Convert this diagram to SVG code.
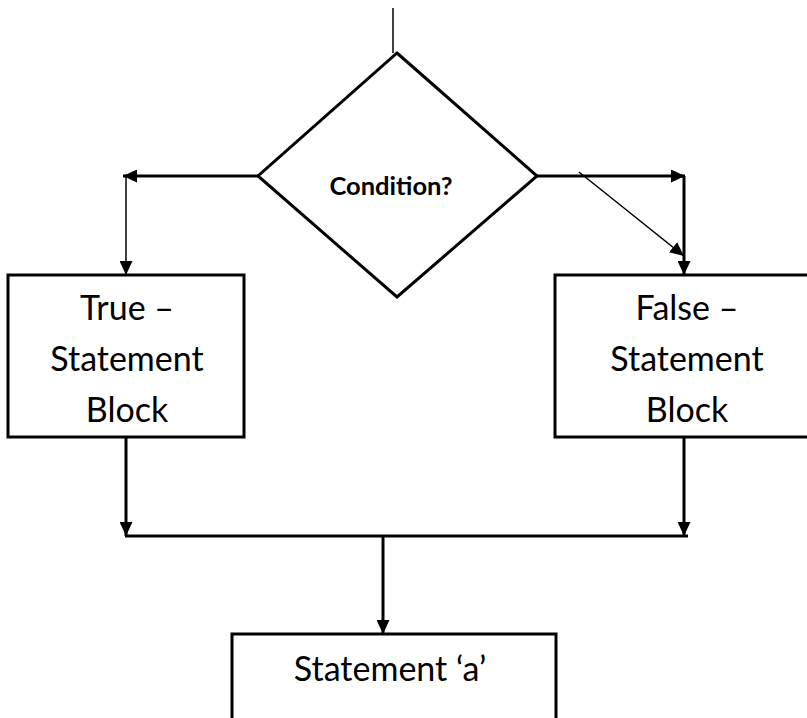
<svg xmlns="http://www.w3.org/2000/svg" width="807" height="718" viewBox="0 0 807 718">
  <style>
    .box { fill: #ffffff; stroke: #000000; stroke-width: 3; }
    .thick { fill: none; stroke: #000000; stroke-width: 3; }
    .thin { fill: none; stroke: #000000; stroke-width: 1.5; }
    .lbl { font-family: Lato, "Liberation Sans", sans-serif; font-size: 34px; fill: #000000; text-anchor: middle; }
    .cond { font-family: Lato, "Liberation Sans", sans-serif; font-size: 25.5px; font-weight: bold; fill: #000000; text-anchor: middle; }
  </style>
  <defs>
    <marker id="arr" viewBox="0 0 14 13" refX="14" refY="6.5" markerWidth="14" markerHeight="13" markerUnits="userSpaceOnUse" orient="auto">
      <path d="M0,0 L14,6.5 L0,13 z" fill="#000000"/>
    </marker>
  </defs>
  <rect width="807" height="718" fill="#ffffff"/>

  <g id="decision">
    <polygon class="box" points="397,53 537,176 397,297 258,176"/>
    <text class="cond" x="391" y="195">Condition?</text>
  </g>

  <g id="true-block">
    <rect class="box" x="8" y="275" width="236" height="162"/>
    <text class="lbl" x="127" y="320">True –</text>
    <text class="lbl" x="127" y="371">Statement</text>
    <text class="lbl" x="127" y="422">Block</text>
  </g>

  <g id="false-block">
    <rect class="box" x="555" y="275" width="265" height="162"/>
    <text class="lbl" x="687" y="320">False –</text>
    <text class="lbl" x="687" y="371">Statement</text>
    <text class="lbl" x="687" y="422">Block</text>
  </g>

  <g id="statement-a">
    <rect class="box" x="232" y="634" width="324" height="110"/>
    <text class="lbl" x="390" y="681">Statement ‘a’</text>
  </g>

  <g id="connectors">
    <path class="thin" d="M393,8 L393,53"/>
    <path class="thick" d="M258,176 L123,176" marker-end="url(#arr)"/>
    <path class="thin" d="M126,176 L126,275" marker-end="url(#arr)"/>
    <path class="thick" d="M537,176 L685,176" marker-end="url(#arr)"/>
    <path class="thick" d="M684,176 L684,275" marker-end="url(#arr)"/>
    <path class="thin" d="M579,172 L684,256" marker-end="url(#arr)"/>
    <path class="thick" d="M126,437 L126,536" marker-end="url(#arr)"/>
    <path class="thick" d="M684,437 L684,536" marker-end="url(#arr)"/>
    <path class="thick" d="M125,536 L688,536"/>
    <path class="thick" d="M383,536 L383,634" marker-end="url(#arr)"/>
  </g>
</svg>
